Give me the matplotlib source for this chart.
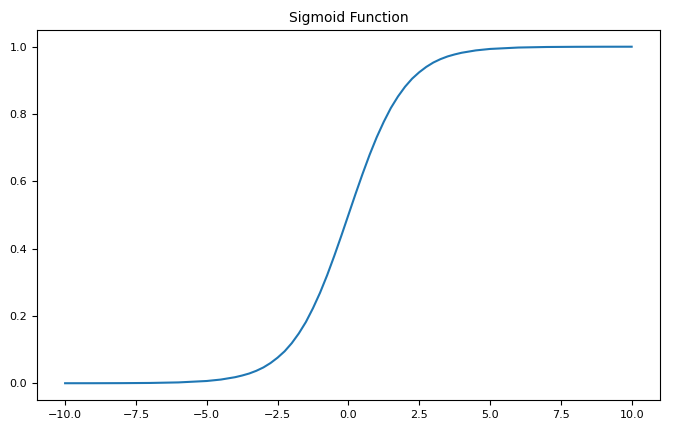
import matplotlib
matplotlib.use("Agg")
import matplotlib.pyplot as plt

# points
x_vals = [-10, -9, -8, -7, -6, -5, -4.5, -4, -3.75, -3.5, -3.25, -3, -2.75, -2.5,
          -2.25, -2, -1.75, -1.5, -1.25, -1, -0.75, -0.5, -0.25, 0,
          0.25, 0.5, 0.75, 1, 1.25, 1.5, 1.75, 2, 2.25, 2.5, 2.75, 3, 3.25, 3.5,
          3.75, 4, 4.5, 5, 6, 7, 8, 9, 10]
y_vals = [0.00005, 0.00012, 0.00034, 0.0009, 0.0025, 0.0067, 0.011, 0.018, 0.023,
          0.029, 0.037, 0.047, 0.060, 0.076, 0.095, 0.119, 0.148, 0.182, 0.223,
          0.269, 0.321, 0.378, 0.438, 0.5,
          0.562, 0.622, 0.679, 0.731, 0.777, 0.818, 0.852, 0.881, 0.905, 0.924,
          0.940, 0.953, 0.963, 0.971, 0.977, 0.982, 0.989, 0.9933, 0.9975,
          0.9991, 0.99966, 0.99988, 0.99995]

fig = plt.figure(figsize=(6.94, 4.46), dpi=100)
ax = fig.add_axes([0.053, 0.103, 0.898, 0.83])
ax.plot(x_vals, y_vals, color='#1f77b4', linewidth=1.5)
ax.set_title("Sigmoid Function", fontsize=10)
ax.tick_params(labelsize=8)
ax.set_xticks([-10, -7.5, -5, -2.5, 0, 2.5, 5, 7.5, 10])
ax.set_yticks([0.0, 0.2, 0.4, 0.6, 0.8, 1.0])

fig.savefig("out.png", dpi=100)
